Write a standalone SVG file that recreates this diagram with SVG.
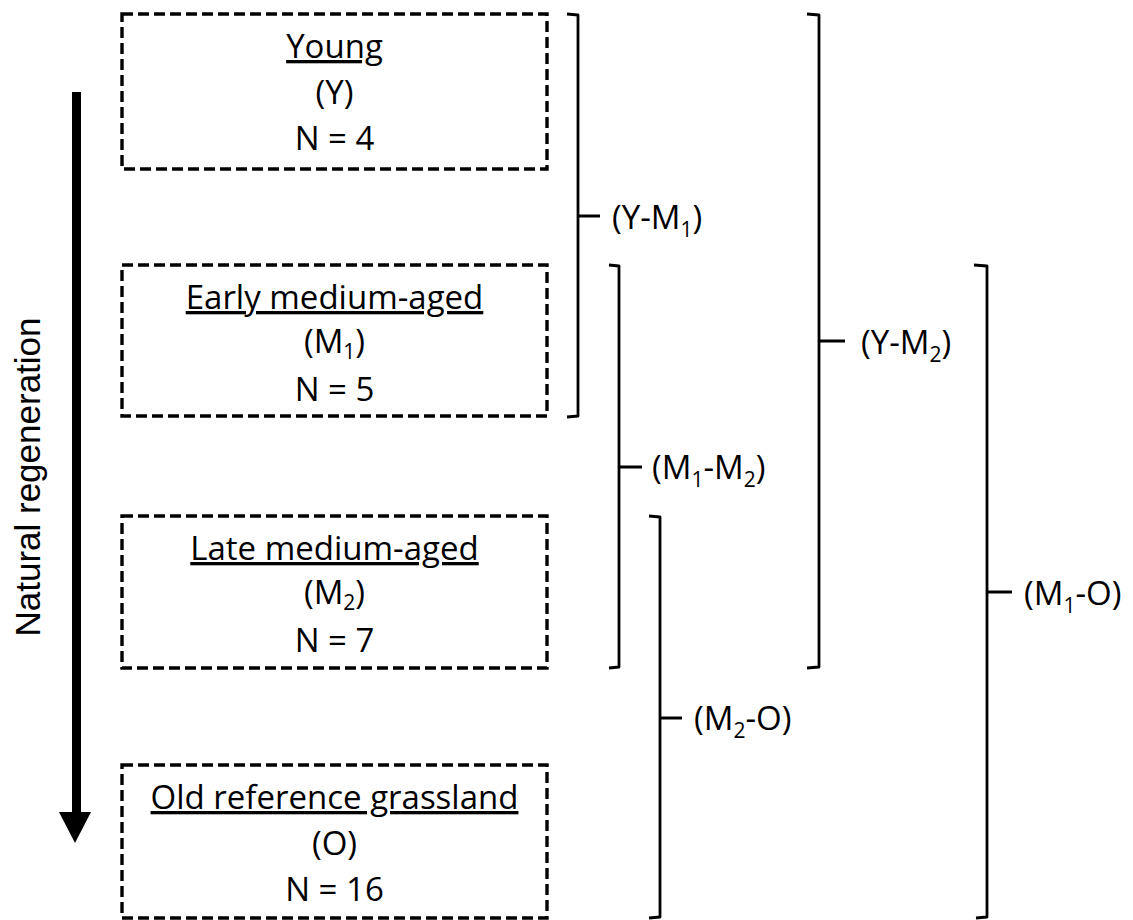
<svg xmlns="http://www.w3.org/2000/svg" width="1133" height="920" viewBox="0 0 1133 920">
<style>
.box{fill:none;stroke:#000;stroke-width:3.4;stroke-dasharray:11 5;}
.t{font-family:"Open Sans","Noto Sans",sans-serif;font-size:33px;fill:#000;text-anchor:middle;}
.u{text-decoration:underline;}
.lbl{font-family:"Open Sans","Noto Sans",sans-serif;font-size:33px;fill:#000;}
.sub{font-size:21px;}
.br{fill:none;stroke:#000;stroke-width:2.8;stroke-linejoin:round;}
</style>
<rect width="1133" height="920" fill="#fff"/>
<g id="arrow">
<rect x="72" y="92" width="9" height="722" fill="#000"/>
<polygon points="59,812 91,812 75,843" fill="#000"/>
<text x="40" y="477" transform="rotate(-90 40 477)" font-family="Liberation Sans, Arial, sans-serif" font-size="35" text-anchor="middle">Natural regeneration</text>
</g>
<g id="young">
<rect class="box" x="122" y="14" width="425" height="155"/>
<text class="t u" x="334.5" y="58">Young</text>
<text class="t" x="334.5" y="104">(Y)</text>
<text class="t" x="334.5" y="150">N = 4</text>
</g>
<g id="early">
<rect class="box" x="122" y="265" width="425" height="151"/>
<text class="t u" x="334.5" y="309">Early medium-aged</text>
<text class="t" x="334.5" y="353">(M<tspan class="sub" dy="6">1</tspan><tspan dy="-6">)</tspan></text>
<text class="t" x="334.5" y="401">N = 5</text>
</g>
<g id="late">
<rect class="box" x="122" y="516" width="425" height="152"/>
<text class="t u" x="334.5" y="560">Late medium-aged</text>
<text class="t" x="334.5" y="604">(M<tspan class="sub" dy="6">2</tspan><tspan dy="-6">)</tspan></text>
<text class="t" x="334.5" y="652">N = 7</text>
</g>
<g id="old">
<rect class="box" x="122" y="765" width="425" height="153"/>
<text class="t u" x="334.5" y="809">Old reference grassland</text>
<text class="t" x="334.5" y="855">(O)</text>
<text class="t" x="334.5" y="901">N = 16</text>
</g>
<g id="connectors">
<path class="br" d="M567,14 L578,15 L578,416 L567,417 M578,216 L600,216"/>
<path class="br" d="M609,265 L619,266 L619,667 L609,668 M619,467 L642,467"/>
<path class="br" d="M649,516 L660,517 L660,917 L649,918 M660,718 L682,718"/>
<path class="br" d="M807,14 L819,15 L819,667 L807,668 M819,341 L845,341"/>
<path class="br" d="M974,265 L987,266 L987,917 L976,918 M987,592 L1012,592"/>
</g>
<g id="labels">
<text class="lbl" x="612" y="229">(Y-M<tspan class="sub" dy="8">1</tspan><tspan dy="-8">)</tspan></text>
<text class="lbl" x="652" y="479">(M<tspan class="sub" dy="8">1</tspan><tspan dy="-8">-M</tspan><tspan class="sub" dy="8">2</tspan><tspan dy="-8">)</tspan></text>
<text class="lbl" x="694" y="730">(M<tspan class="sub" dy="8">2</tspan><tspan dy="-8">-O)</tspan></text>
<text class="lbl" x="861" y="354">(Y-M<tspan class="sub" dy="8">2</tspan><tspan dy="-8">)</tspan></text>
<text class="lbl" x="1024" y="605">(M<tspan class="sub" dy="8">1</tspan><tspan dy="-8">-O)</tspan></text>
</g>
</svg>
